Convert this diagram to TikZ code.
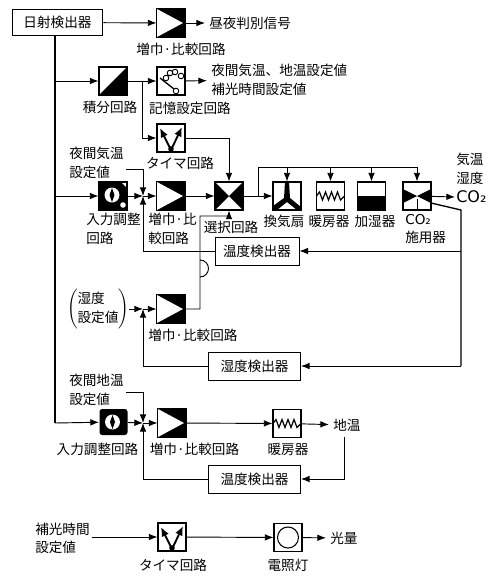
\documentclass[tikz,border=0pt]{standalone}
\usepackage{fontspec}
\setmainfont{Noto Sans CJK JP}
\newfontfamily\cofont{DejaVu Sans}
\usepackage{tikz}
\usetikzlibrary{arrows.meta, calc}
\tikzset{
  x=0.75pt, y=-0.75pt,
  flow/.style={line width=0.7pt, -{Latex[length=6.5pt,width=5pt]}},
  totext/.style={flow, shorten >=3pt},
  wire/.style={line width=0.7pt},
  blockbox/.style={draw, line width=0.8pt, inner sep=0pt, minimum width=21pt, minimum height=21pt, fill=white},
  detbox/.style={draw, line width=0.7pt, inner sep=0pt, minimum width=63pt, minimum height=21pt, fill=white},
  lbl/.style={inner sep=0pt, align=left, font=\fontsize{10.2}{14}\selectfont},
  pics/ampicon/.style={code={
    \fill (-14,-14) rectangle (14,14);
    \fill[white] (-14,-14) -- (12,0) -- (-14,14) -- cycle;}},
  pics/inticon/.style={code={
    \fill (-14,14) -- (14,-14) -- (14,14) -- cycle;}},
  pics/selicon/.style={code={
    \fill (-14,-14) -- (14,14) -- (14,-14) -- (-14,14) -- cycle;}},
  pics/timericon/.style={code={
    \draw[line width=1.4pt, -{Latex[length=7pt,width=6pt]}] (0,12) -- (-11,-10);
    \draw[line width=1.4pt, -{Latex[length=7pt,width=6pt]}] (0,12) -- (11,-11);
    \fill (0,11) circle (2.8);}},
  pics/dialicon/.style={code={
    \fill (-14,-14) -- (8,-14) -- (14,-8) -- (14,14) -- (-14,14) -- cycle;
    \fill[white] (-1,-1) circle (7.5);
    \fill (-1,-8) -- (1.5,-1) -- (-1,6) -- (-3.5,-1) -- cycle;
    \fill[white] (10,9) circle (2.8);}},
  pics/dialtwo/.style={code={
    \fill[rounded corners=2pt] (-14,-13) rectangle (14,13);
    \fill[white] (-1,0) circle (7.5);
    \fill (-1,-7) -- (1.5,0) -- (-1,7) -- (-3.5,0) -- cycle;}},
  pics/memicon/.style={code={
    \draw[line width=0.7pt] (-5,-3) circle (2.8) (-1,-8) circle (2.8) (4,-9) circle (2.8) (10,-5) circle (2.8) (5,10) circle (2.8);
    \draw[line width=1pt] (-11,-3) -- (3,8);}},
  pics/fanicon/.style={code={
    \fill (-2,-14) -- (2,-14) -- (3,2) -- (14,11) -- (14,14) -- (10,14) -- (0,6) -- (-10,14) -- (-14,14) -- (-14,10) -- (-3,2) -- cycle;}},
  pics/heaticon/.style={code={
    \draw[line width=0.9pt] (-14,0) -- (-11,-4) -- (-8,4) -- (-5,-4) -- (-2,4) -- (1,-4) -- (4,4) -- (7,-4) -- (10,4) -- (14,0);}},
  pics/humicon/.style={code={
    \fill (-14,0) rectangle (14,14);}},
  pics/coicon/.style={code={
    \fill (-14,-7) -- (0,0) -- (-14,7) -- cycle;
    \fill (14,-7) -- (0,0) -- (14,7) -- cycle;
    \draw[line width=0.7pt] (0,3) -- (0,14);}},
  pics/lampicon/.style={code={
    \draw[line width=0.8pt] (0,0) circle (10.5);}},
}
\begin{document}
\begin{tikzpicture}
  \path[use as bounding box] (0,0) rectangle (492,576);
  % top detector and day/night signal
  \node[detbox, minimum width=68pt, minimum height=19.5pt] (sun) at (57.5,22.5) {};
  \node[lbl] (sunt) at (sun) {日射検出器};
  \node[blockbox] (amp1) at (171,23) {};
  \pic at (amp1) {ampicon};
  \node[lbl, anchor=west] (sign) at (209,23) {昼夜判別信号};
  \node[lbl] (amp1t) at (181,49) {増巾·比較回路};
  \coordinate (trunk) at (55,35);
  \coordinate (trunkend) at (55,423);
  \draw[line width=1pt] (trunk) -- (trunkend);
  \draw[flow] (sun) -- (amp1);
  \draw[totext] (amp1) -- (sign);
  % integrator, memory and timer
  \node[blockbox] (integ) at (113,81) {};
  \pic at (integ) {inticon};
  \node[lbl] (integt) at (110,107) {積分回路};
  \node[blockbox] (mem) at (171,81) {};
  \pic at (mem) {memicon};
  \node[lbl] (memt) at (190,108) {記憶設定回路};
  \node[lbl, anchor=west] (memout) at (211,80) {夜間気温、地温設定値\\補光時間設定値};
  \node[blockbox] (timer1) at (171,138) {};
  \pic at (timer1) {timericon};
  \node[lbl] (timer1t) at (180,163) {タイマ回路};
  \coordinate (t1) at (55,81);
  \coordinate (brk) at (142,81);
  \coordinate (brk2) at (142,138);
  \draw[flow] (t1) -- (integ);
  \draw[flow] (integ) -- (mem);
  \draw[totext] (mem) -- (memout);
  \draw[wire] (brk) -- (brk2);
  \draw[flow] (brk2) -- (timer1);
  % air temperature channel
  \node[lbl, anchor=west] (airset) at (69,163) {夜間気温\\設定値};
  \node[blockbox] (dial1) at (113,196) {};
  \pic at (dial1) {dialicon};
  \node[lbl, anchor=west] (dial1t) at (86,229) {入力調整\\回路};
  \node[blockbox] (amp2) at (171,196) {};
  \pic at (amp2) {ampicon};
  \node[lbl, anchor=west] (amp2t) at (148,229) {増巾·比\\較回路};
  \node[blockbox] (sel) at (229,196) {};
  \pic at (sel) {selicon};
  \node[lbl] (selt) at (231,227) {選択回路};
  \coordinate (t2) at (55,196);
  \coordinate (j1) at (143,196);
  \coordinate (j1a) at (126,169);
  \coordinate (j1b) at (143,169);
  \coordinate (t1c) at (229,138);
  \draw[flow] (t2) -- (dial1);
  \draw[flow] (dial1) -- (j1);
  \draw[flow] (j1) -- (amp2);
  \draw[flow] (amp2) -- (sel);
  \draw[flow] (j1a) -- (j1b) -- (j1);
  \draw[flow] (timer1) -- (t1c) -- (sel);
  % actuators
  \node[blockbox] (fan) at (287,196) {};
  \pic at (fan) {fanicon};
  \node[lbl] (fant) at (284,221) {換気扇};
  \node[blockbox] (heat1) at (330.5,196) {};
  \pic at (heat1) {heaticon};
  \node[lbl] (heat1t) at (329,221) {暖房器};
  \node[blockbox] (hum) at (371.5,196) {};
  \pic at (hum) {humicon};
  \node[lbl] (humt) at (375,221) {加湿器};
  \node[blockbox] (co) at (417,196) {};
  \pic at (co) {coicon};
  \node[lbl, anchor=west] (cot) at (405,229) {{\cofont CO₂}\\施用器};
  \node[lbl, anchor=west] (outp) at (456,178) {気温\\湿度\\{\cofont\fontsize{12}{14}\selectfont CO₂}};
  \coordinate (b0) at (258,196);
  \coordinate (b1) at (258,167);
  \coordinate (b2) at (287,167);
  \coordinate (b3) at (330.5,167);
  \coordinate (b4) at (371.5,167);
  \coordinate (b5) at (417,167);
  \coordinate (cov) at (455,197);
  \draw[flow] (sel) -- (fan);
  \draw[wire] (b0) -- (b1) -- (b5);
  \draw[flow] (b2) -- (fan);
  \draw[flow] (b3) -- (heat1);
  \draw[flow] (b4) -- (hum);
  \draw[flow] (b5) -- (co);
  \draw[flow] (co) -- (cov);
  % sensors fed back
  \node[detbox] (temp1) at (257,251) {};
  \node[lbl] (temp1t) at (temp1) {温度検出器};
  \coordinate (s0) at (431,203);
  \coordinate (s1) at (461,210);
  \coordinate (s2) at (461,251);
  \coordinate (s3) at (461,366);
  \coordinate (f1) at (143,251);
  \draw[line width=1pt] (s0) -- (s1) -- (s3);
  \draw[flow] (s2) -- (temp1);
  \draw[flow] (temp1) -- (f1) -- (j1);
  % humidity channel
  \node[lbl] (humset) at (98,309) {$\left(\begin{tabular}{@{}l@{}}湿度\\設定値\end{tabular}\right)$};
  \node[blockbox] (amp3) at (171,309) {};
  \pic at (amp3) {ampicon};
  \node[lbl, anchor=west] (amp3t) at (148,335) {増巾·比較回路};
  \node[detbox, minimum width=69pt] (hum2) at (254.5,366) {};
  \node[lbl] (hum2t) at (hum2) {湿度検出器};
  \coordinate (j2) at (143,309);
  \coordinate (f2) at (143,366);
  \coordinate (a3) at (200,309);
  \coordinate (a3b) at (200,260);
  \coordinate (a3d) at (200,216);
  \coordinate (a3e) at (229,216);
  \draw[flow] (humset) -- (j2);
  \draw[flow] (j2) -- (amp3);
  \draw[flow] (s3) -- (hum2);
  \draw[flow] (hum2) -- (f2) -- (j2);
  \draw[wire] (amp3) -- (a3) -- (a3b) arc[start angle=-90, end angle=90, radius=8.5] -- (a3d) -- (a3e);
  \draw[flow] (a3e) -- (sel);
  % soil temperature channel
  \node[lbl, anchor=west] (soilset) at (69,390) {夜間地温\\設定値};
  \node[blockbox, draw=none, fill=none] (dial2) at (113.5,422) {};
  \pic at (dial2) {dialtwo};
  \node[lbl] (dial2t) at (97.5,449) {入力調整回路};
  \node[blockbox] (amp4) at (172,423) {};
  \pic at (amp4) {ampicon};
  \node[lbl] (amp4t) at (194.5,449) {増巾·比較回路};
  \node[blockbox] (heat2) at (287,423.5) {};
  \pic at (heat2) {heaticon};
  \node[lbl] (heat2t) at (288,449) {暖房器};
  \node[lbl, anchor=west] (soil) at (333,425) {地温};
  \node[detbox, minimum width=69pt] (temp2) at (254.5,479) {};
  \node[lbl] (temp2t) at (temp2) {温度検出器};
  \coordinate (j3) at (143,423);
  \coordinate (j3a) at (126,392);
  \coordinate (j3b) at (143,392);
  \coordinate (f3) at (143,479);
  \coordinate (v0) at (344,437);
  \coordinate (v1) at (344,479);
  \draw[flow] (trunkend) -- (dial2);
  \draw[flow] (dial2) -- (j3);
  \draw[flow] (j3) -- (amp4);
  \draw[flow] (j3a) -- (j3b) -- (j3);
  \draw[flow] (amp4) -- (heat2);
  \draw[totext] (heat2) -- (soil);
  \draw[flow] (v0) -- (v1) -- (temp2);
  \draw[flow] (temp2) -- (f3) -- (j3);
  % supplementary lighting
  \node[lbl, anchor=west] (lightset) at (35,538.5) {補光時間\\設定値};
  \node[blockbox] (timer2) at (172,537) {};
  \pic at (timer2) {timericon};
  \node[lbl] (timer2t) at (173,565) {タイマ回路};
  \node[blockbox] (lamp) at (288,537.5) {};
  \pic at (lamp) {lampicon};
  \node[lbl] (lampt) at (288,565) {電照灯};
  \node[lbl, anchor=west] (light) at (330,538) {光量};
  \coordinate (l0) at (92,537);
  \draw[flow] (l0) -- (timer2);
  \draw[flow] (timer2) -- (lamp);
  \draw[totext] (lamp) -- (light);
\end{tikzpicture}
\end{document}
